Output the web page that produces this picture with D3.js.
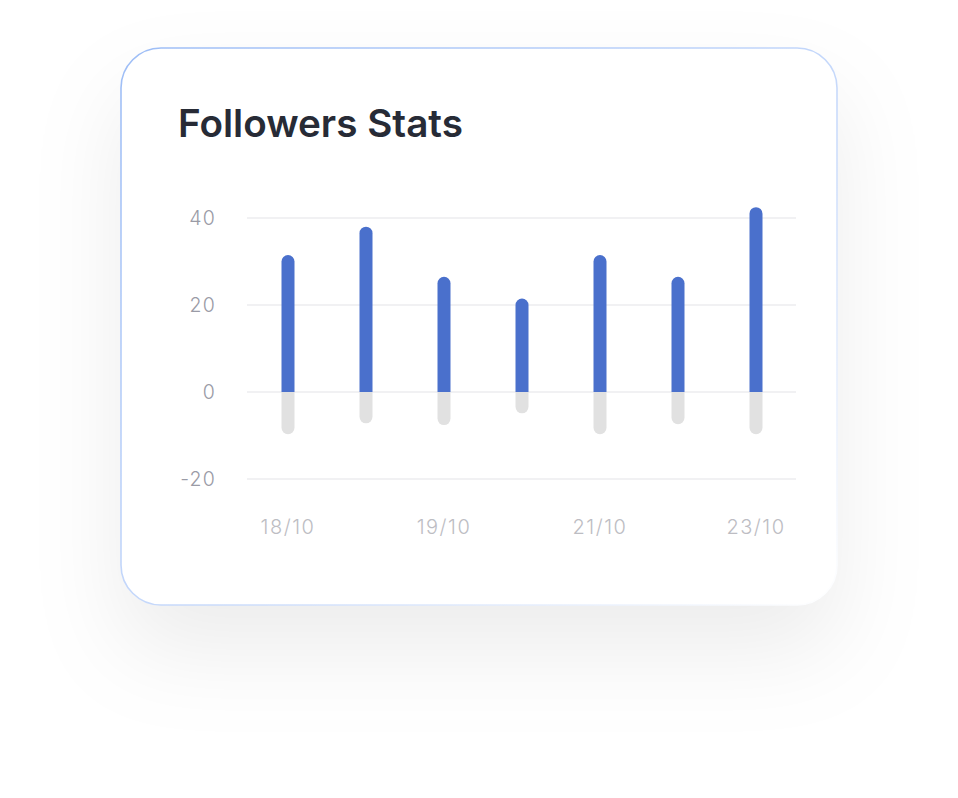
<!DOCTYPE html>
<html>
<head>
<meta charset="utf-8">
<script src="https://cdn.jsdelivr.net/npm/d3@7"></script>
<style>
  html, body { margin: 0; padding: 0; background: #ffffff; }
  svg { display: block; }
</style>
</head>
<body>
<svg id="chart" width="958" height="798"></svg>
<script>
// ---- data ----
const title = "Followers Stats";
const categories = ["18/10", "18/10b", "19/10", "20/10", "21/10", "22/10", "23/10"];
const shownLabels = ["18/10", "", "19/10", "", "21/10", "", "23/10"];
const gained = [31.5, 38, 26.5, 21.5, 31.5, 26.5, 42.5];
const lost = [-9.7, -7.2, -7.6, -4.9, -9.7, -7.4, -9.7];
const yTicks = [-20, 0, 20, 40];

const svg = d3.select("#chart");
const defs = svg.append("defs");

// shadow filter
const f = defs.append("filter").attr("id", "shadow")
  .attr("x", "-40%").attr("y", "-40%").attr("width", "180%").attr("height", "180%");
f.append("feDropShadow").attr("dx", 0).attr("dy", 45).attr("stdDeviation", 45)
  .attr("flood-color", "#000").attr("flood-opacity", 0.075);

// border gradient
const g = defs.append("linearGradient").attr("id", "border")
  .attr("x1", "0%").attr("y1", "0%").attr("x2", "100%").attr("y2", "100%");
g.append("stop").attr("offset", "0%").attr("stop-color", "#9dbdf6");
g.append("stop").attr("offset", "55%").attr("stop-color", "#c8dafb");
g.append("stop").attr("offset", "100%").attr("stop-color", "#ffffff");

// card
const card = { x: 121, y: 48, w: 716, h: 557, r: 40 };
svg.append("rect")
  .attr("x", card.x).attr("y", card.y).attr("width", card.w).attr("height", card.h)
  .attr("rx", card.r).attr("fill", "#ffffff").attr("filter", "url(#shadow)");
svg.append("rect")
  .attr("x", card.x).attr("y", card.y).attr("width", card.w).attr("height", card.h)
  .attr("rx", card.r).attr("fill", "#ffffff")
  .attr("stroke", "url(#border)").attr("stroke-width", 1.6);

// title
const t = svg.append("text")
  .attr("x", 178).attr("y", 137)
  .attr("font-family", "Inter, 'Open Sans', sans-serif")
  .attr("font-weight", 600)
  .attr("font-size", 32)
  .attr("fill", "#272b36")
  .text(title);
const tw = t.node().getComputedTextLength();
t.attr("font-size", 32 * 285 / tw);

// scales
const x = d3.scaleBand().domain(categories).range([249, 795]).padding(0);
const y = d3.scaleLinear().domain([-20, 40]).range([479, 218]);

// gridlines
svg.append("g").selectAll("line").data(yTicks).join("line")
  .attr("x1", 247).attr("x2", 796)
  .attr("y1", d => y(d)).attr("y2", d => y(d))
  .attr("stroke", "#f1f1f3").attr("stroke-width", 2);

// y axis labels
const yAxis = d3.axisLeft(y).tickValues(yTicks).tickSize(0).tickPadding(0)
  .tickFormat(d => d < 0 ? "-" + Math.abs(d) : d);
const ya = svg.append("g").attr("transform", "translate(216,0)").call(yAxis);
ya.select(".domain").remove();
ya.selectAll("text")
  .attr("font-family", "Inter, 'Open Sans', sans-serif")
  .attr("font-weight", 300)
  .attr("letter-spacing", 1.2)
  .attr("font-size", 19.5).attr("fill", "#9a9ba6").attr("dy", "0.35em");

// x axis labels
const xAxis = d3.axisBottom(x).tickSize(0).tickPadding(0)
  .tickFormat((d, i) => shownLabels[i]);
const xa = svg.append("g").attr("transform", "translate(0,520)").call(xAxis);
xa.select(".domain").remove();
xa.selectAll("text")
  .attr("font-family", "Inter, 'Open Sans', sans-serif")
  .attr("font-weight", 300)
  .attr("letter-spacing", 1.5)
  .attr("font-size", 20).attr("fill", "#bdbdc3").attr("dy", "0.71em");

// bars
const bw = 13, rr = bw / 2;
function topRounded(cx, y0, y1) {
  const l = cx - bw / 2, r = cx + bw / 2;
  return `M${l},${y0}V${y1 + rr}A${rr},${rr} 0 0 1 ${r},${y1 + rr}V${y0}Z`;
}
function bottomRounded(cx, y0, y1) {
  const l = cx - bw / 2, r = cx + bw / 2;
  return `M${l},${y0}V${y1 - rr}A${rr},${rr} 0 0 0 ${r},${y1 - rr}V${y0}Z`;
}
const cx = d => x(d) + x.bandwidth() / 2;

svg.append("g").selectAll("path").data(categories).join("path")
  .attr("d", (d, i) => bottomRounded(cx(d), y(0), y(lost[i])))
  .attr("fill", "#e1e1e1");
svg.append("g").selectAll("path").data(categories).join("path")
  .attr("d", (d, i) => topRounded(cx(d), y(0), y(gained[i])))
  .attr("fill", "#4a70cc");
</script>
</body>
</html>
